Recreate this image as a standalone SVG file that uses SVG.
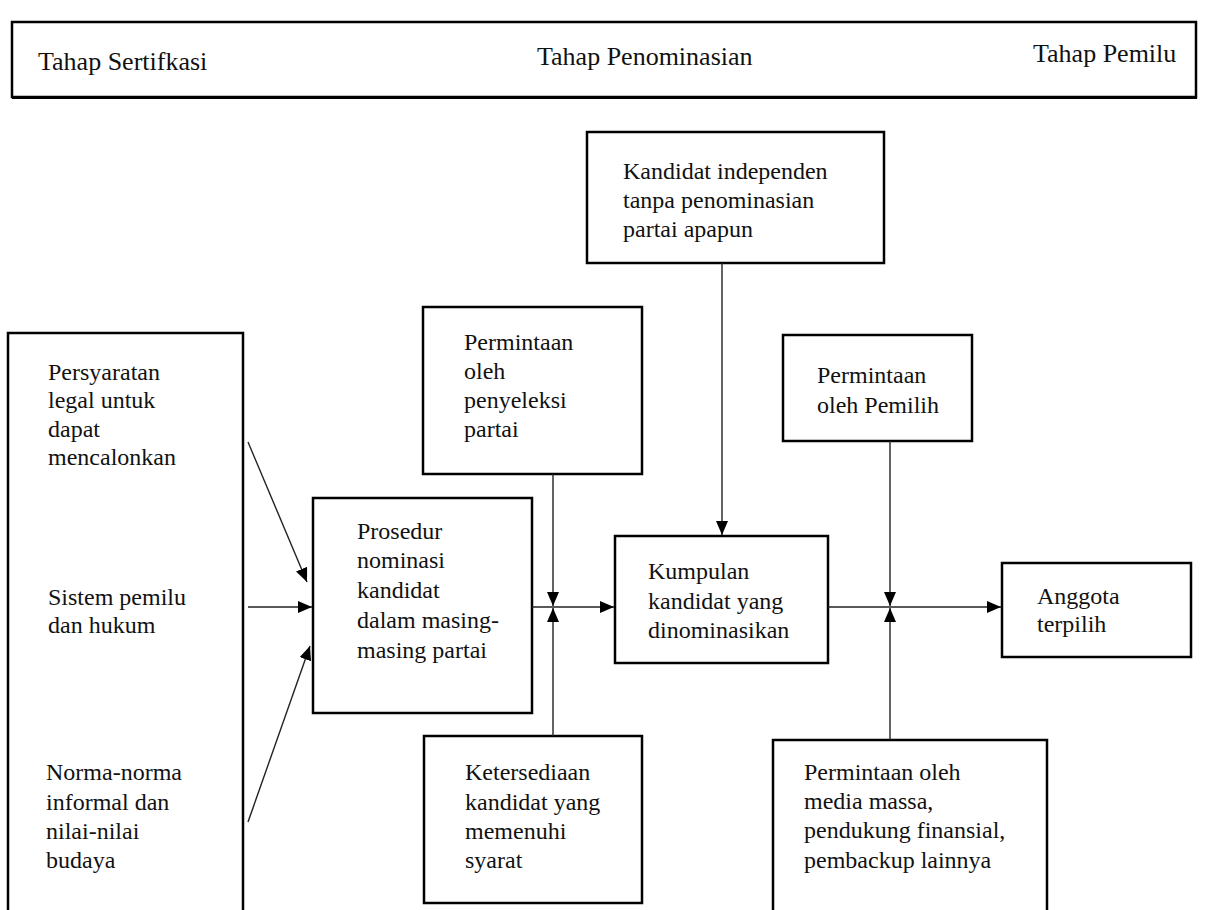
<svg xmlns="http://www.w3.org/2000/svg" width="1208" height="910" viewBox="0 0 1208 910">
<style>
.box{fill:#fff;stroke:#000;stroke-width:2.5}
.t{font-family:"Liberation Serif","Times New Roman",serif;font-size:24px;fill:#111}
.h{font-family:"Liberation Serif","Times New Roman",serif;font-size:26px;fill:#111}
.c{stroke:#222;stroke-width:1.4;fill:none}
</style>
<defs>
<marker id="arr" viewBox="0 0 14 12" markerWidth="14" markerHeight="12" refX="14" refY="6" orient="auto" markerUnits="userSpaceOnUse" preserveAspectRatio="none">
<path d="M0,0 L14,6 L0,12 z" fill="#000"/>
</marker>
</defs>
<rect width="1208" height="910" fill="#fff"/>

<g id="stages">
<rect class="box" x="12" y="22" width="1184" height="75" stroke-width="2"/>
<line x1="12" y1="97.5" x2="1197" y2="97.5" stroke="#000" stroke-width="3"/>
<text class="h" x="38" y="70">Tahap Sertifkasi</text>
<text class="h" x="537" y="65">Tahap Penominasian</text>
<text class="h" x="1033" y="62">Tahap Pemilu</text>
</g>

<g id="n-kiri">
<rect class="box" x="8" y="333" width="235" height="600"/>
<text class="t" x="48" y="380">Persyaratan</text>
<text class="t" x="48" y="408">legal untuk</text>
<text class="t" x="48" y="437">dapat</text>
<text class="t" x="48" y="465">mencalonkan</text>
<text class="t" x="48" y="605">Sistem pemilu</text>
<text class="t" x="48" y="633">dan hukum</text>
<text class="t" x="46" y="780">Norma-norma</text>
<text class="t" x="46" y="810">informal dan</text>
<text class="t" x="46" y="839">nilai-nilai</text>
<text class="t" x="46" y="868">budaya</text>
</g>

<g id="n-prosedur">
<rect class="box" x="313" y="498" width="219" height="215"/>
<text class="t" x="357" y="539">Prosedur</text>
<text class="t" x="357" y="568">nominasi</text>
<text class="t" x="357" y="598">kandidat</text>
<text class="t" x="357" y="628">dalam masing-</text>
<text class="t" x="357" y="658">masing partai</text>
</g>

<g id="n-penyeleksi">
<rect class="box" x="423" y="307" width="219" height="167"/>
<text class="t" x="464" y="350">Permintaan</text>
<text class="t" x="464" y="379">oleh</text>
<text class="t" x="464" y="408">penyeleksi</text>
<text class="t" x="464" y="437">partai</text>
</g>

<g id="n-ketersediaan">
<rect class="box" x="424" y="736" width="218" height="167"/>
<text class="t" x="465" y="780">Ketersediaan</text>
<text class="t" x="465" y="810">kandidat yang</text>
<text class="t" x="465" y="839">memenuhi</text>
<text class="t" x="465" y="868">syarat</text>
</g>

<g id="n-independen">
<rect class="box" x="587" y="132" width="297" height="131"/>
<text class="t" x="623" y="179">Kandidat independen</text>
<text class="t" x="623" y="208">tanpa penominasian</text>
<text class="t" x="623" y="237">partai apapun</text>
</g>

<g id="n-kumpulan">
<rect class="box" x="615" y="536" width="213" height="127"/>
<text class="t" x="648" y="579">Kumpulan</text>
<text class="t" x="648" y="609">kandidat yang</text>
<text class="t" x="648" y="638">dinominasikan</text>
</g>

<g id="n-pemilih">
<rect class="box" x="783" y="335" width="189" height="106"/>
<text class="t" x="817" y="383">Permintaan</text>
<text class="t" x="817" y="413">oleh Pemilih</text>
</g>

<g id="n-media">
<rect class="box" x="773" y="740" width="274" height="200"/>
<text class="t" x="804" y="780">Permintaan oleh</text>
<text class="t" x="804" y="809">media massa,</text>
<text class="t" x="804" y="838">pendukung finansial,</text>
<text class="t" x="804" y="868">pembackup lainnya</text>
</g>

<g id="n-anggota">
<rect class="box" x="1002" y="563" width="189" height="94"/>
<text class="t" x="1037" y="604">Anggota</text>
<text class="t" x="1037" y="632">terpilih</text>
</g>

<g id="connectors">
<line class="c" x1="248" y1="442" x2="307" y2="582" marker-end="url(#arr)"/>
<line class="c" x1="248" y1="607" x2="312" y2="607" marker-end="url(#arr)"/>
<line class="c" x1="248" y1="822" x2="310" y2="646" marker-end="url(#arr)"/>
<line class="c" x1="532" y1="607" x2="614" y2="607" marker-end="url(#arr)"/>
<line class="c" x1="553" y1="474" x2="553" y2="606" marker-end="url(#arr)"/>
<line class="c" x1="553" y1="736" x2="553" y2="608" marker-end="url(#arr)"/>
<line class="c" x1="722" y1="263" x2="722" y2="535" marker-end="url(#arr)"/>
<line class="c" x1="828" y1="607" x2="1001" y2="607" marker-end="url(#arr)"/>
<line class="c" x1="890" y1="441" x2="890" y2="606" marker-end="url(#arr)"/>
<line class="c" x1="890" y1="740" x2="890" y2="608" marker-end="url(#arr)"/>
</g>
</svg>
